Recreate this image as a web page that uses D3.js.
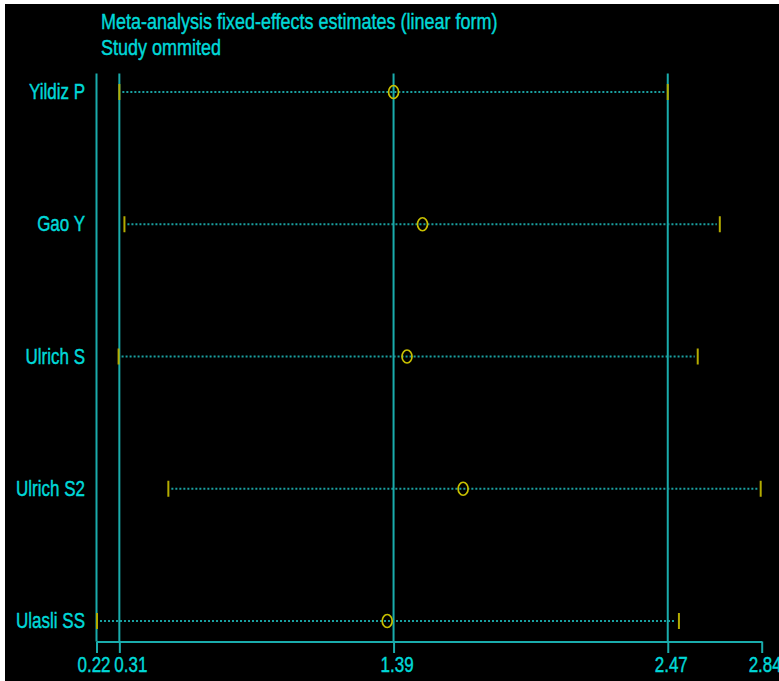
<!DOCTYPE html>
<html>
<head>
<meta charset="utf-8">
<script src="https://cdn.jsdelivr.net/npm/d3@7"></script>
<style>
  body { margin: 0; background: #fff; }
  svg { display: block; }
  text { font-family: "Liberation Sans", Arial, sans-serif; fill: #00d8d8; stroke: #00d8d8; stroke-width: 0.35px; }
</style>
</head>
<body>
<svg id="chart"></svg>
<script>
const width = 779, height = 681;

// Study omitted and the pooled estimate with its limits
const studies = ["Yildiz P", "Gao Y", "Ulrich S", "Ulrich S2", "Ulasli SS"];
const estimate = [1.39, 1.504, 1.443, 1.664, 1.365];
const lower = [0.31, 0.330, 0.307, 0.503, 0.222];
const upper = [2.47, 2.675, 2.588, 2.836, 2.514];

// Axis ticks and the reference lines
const tickVals = [0.22, 0.31, 1.39, 2.47, 2.84];
const refLines = [0.22, 0.31, 1.39, 2.47];
const titleLines = ["Meta-analysis fixed-effects estimates (linear form)", "Study ommited"];

const lineCol = "#1aacac", dotCol = "#1aa0a0", yel = "#b4ac00", circCol = "#c8c000";
const stretch = 1.25; // text in the picture is taller than it is wide

const svg = d3.select("#chart")
    .attr("width", width)
    .attr("height", height);

// black panel (thin white strip on top and left)
svg.append("rect")
    .attr("x", 5).attr("y", 4)
    .attr("width", width - 5).attr("height", height - 4)
    .attr("fill", "#000");

const x = d3.scaleLinear().domain([0.22, 2.84]).range([96.5, 761.7]);
const y = d3.scalePoint().domain(studies).range([92, 621]);
const axisY = 641.5, topY = 73.5;

function stretchedText(sel, tx, ty, str, size, anchor) {
    sel.append("text")
        .attr("transform", `translate(${tx},${ty}) scale(1,${stretch})`)
        .attr("font-size", size)
        .attr("text-anchor", anchor)
        .text(str);
}

// title
titleLines.forEach((t, i) => stretchedText(svg, 101, 28.5 + i * 26.5, t, 18, "start"));

// vertical reference lines
svg.append("g")
    .selectAll("line")
    .data(refLines)
    .join("line")
    .attr("x1", d => x(d)).attr("x2", d => x(d))
    .attr("y1", topY).attr("y2", axisY)
    .attr("stroke", lineCol)
    .attr("stroke-width", 2);

// x axis
const xAxis = svg.append("g")
    .attr("transform", `translate(0,${axisY})`)
    .call(d3.axisBottom(x).tickValues(tickVals).tickSize(11.5).tickSizeOuter(0).tickFormat(d3.format(".2f")));
xAxis.select(".domain").attr("stroke", lineCol).attr("stroke-width", 2);
xAxis.selectAll(".tick line").attr("stroke", lineCol).attr("stroke-width", 2);
xAxis.selectAll(".tick text")
    .attr("fill", "#00d8d8")
    .attr("font-size", 17)
    .attr("font-family", "Liberation Sans, Arial, sans-serif")
    .attr("dy", null)
    .attr("y", null)
    .attr("transform", (d, i) => {
        const shift = i === 0 ? -3 : (i === 1 ? 11 : 3);
        return `translate(${shift},${30}) scale(1,${stretch})`;
    });

// row labels
studies.forEach(s => stretchedText(svg, 85, y(s) + 7, s, 17, "end"));

// dotted interval lines
const rows = svg.append("g");
rows.selectAll("line.ci")
    .data(studies)
    .join("line")
    .attr("class", "ci")
    .attr("x1", (d, i) => x(lower[i]) + 3)
    .attr("x2", (d, i) => x(upper[i]) - 3)
    .attr("y1", d => y(d)).attr("y2", d => y(d))
    .attr("stroke", dotCol)
    .attr("stroke-width", 2)
    .attr("stroke-dasharray", "2,2");

// caps at the limits
rows.selectAll("line.lo")
    .data(studies)
    .join("line")
    .attr("class", "lo")
    .attr("x1", (d, i) => x(lower[i])).attr("x2", (d, i) => x(lower[i]))
    .attr("y1", d => y(d) - 8).attr("y2", d => y(d) + 8)
    .attr("stroke", yel).attr("stroke-width", 2);
rows.selectAll("line.hi")
    .data(studies)
    .join("line")
    .attr("class", "hi")
    .attr("x1", (d, i) => x(upper[i])).attr("x2", (d, i) => x(upper[i]))
    .attr("y1", d => y(d) - 8).attr("y2", d => y(d) + 8)
    .attr("stroke", yel).attr("stroke-width", 2);

// point estimates
rows.selectAll("ellipse")
    .data(studies)
    .join("ellipse")
    .attr("cx", (d, i) => x(estimate[i]))
    .attr("cy", d => y(d))
    .attr("rx", 5).attr("ry", 6.5)
    .attr("fill", "none")
    .attr("stroke", circCol)
    .attr("stroke-width", 1.7);
</script>
</body>
</html>
